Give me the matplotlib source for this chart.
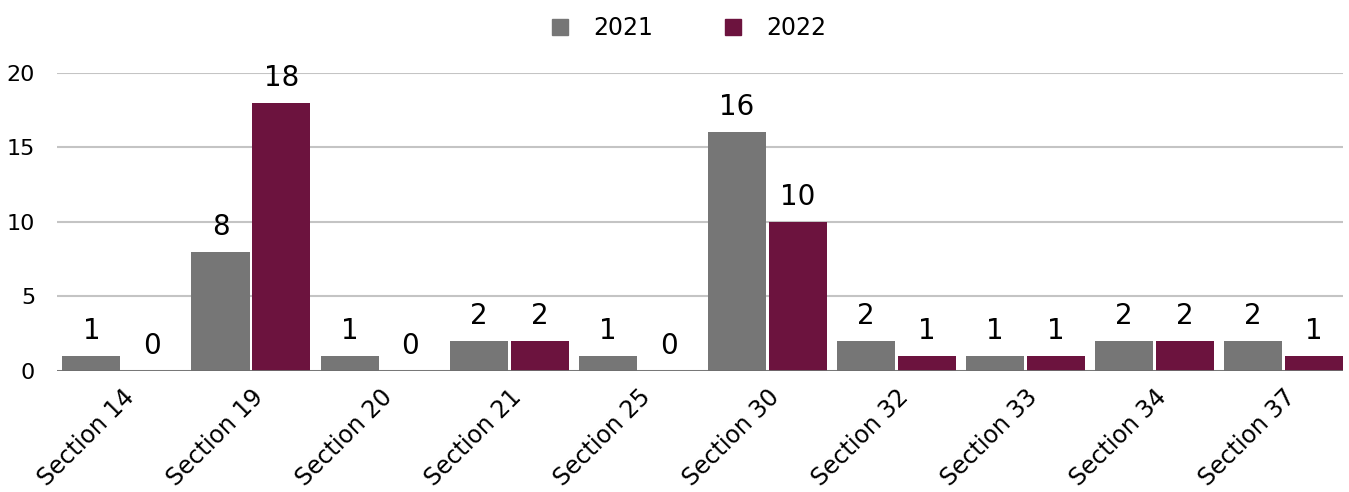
import matplotlib
matplotlib.use("Agg")
import matplotlib.pyplot as plt
import numpy as np
from matplotlib.lines import Line2D

sections = ["Section 14", "Section 19", "Section 20", "Section 21", "Section 25",
            "Section 30", "Section 32", "Section 33", "Section 34", "Section 37"]
counts_2021 = [1, 8, 1, 2, 1, 16, 2, 1, 2, 2]
counts_2022 = [0, 18, 0, 2, 0, 10, 1, 1, 2, 1]
years = ["2021", "2022"]
colors = ["#767676", "#6c133e"]

plt.rcParams["font.family"] = ["DejaVu Sans"]

fig = plt.figure(figsize=(13.49, 4.92), dpi=100)
ax = fig.add_axes([0.0425, 0.246, 0.953, 0.606])

x = np.arange(len(sections))
w = 0.45
off = 0.236

for vals, sign, c in [(counts_2021, -1, colors[0]), (counts_2022, 1, colors[1])]:
    bars = ax.bar(x + sign * off, vals, width=w, color=c, zorder=3)
    for b, v in zip(bars, vals):
        ax.annotate(str(v), (b.get_x() + b.get_width() / 2, v),
                    xytext=(0, 8), textcoords="offset points",
                    ha="center", va="bottom", fontsize=20, color="black",
                    annotation_clip=False, zorder=4)

ax.set_xlim(-0.5, len(sections) - 0.5 - 0.04)
ax.set_ylim(0, 20)
ax.set_yticks([0, 5, 10, 15, 20])
ax.yaxis.grid(True, color="#c4c4c4", linewidth=1.5, zorder=0)
ax.axhline(0, color="#6f6f6f", linewidth=2, zorder=5)
for s in ax.spines.values():
    s.set_visible(False)
ax.tick_params(axis="y", length=0, pad=16, labelsize=16)
ax.tick_params(axis="x", length=0, pad=10, labelsize=17)
ax.set_xticks(x)
ax.set_xticklabels(sections, rotation=45, ha="right", rotation_mode="anchor")

handles = [Line2D([], [], marker="s", linestyle="", markersize=12, color=c) for c in colors]
fig.legend(handles, years, loc="upper center", bbox_to_anchor=(0.505, 1.01), ncol=2,
           frameon=False, fontsize=17, handletextpad=0.4, columnspacing=2.4)

fig.savefig("out.png", dpi=100)
